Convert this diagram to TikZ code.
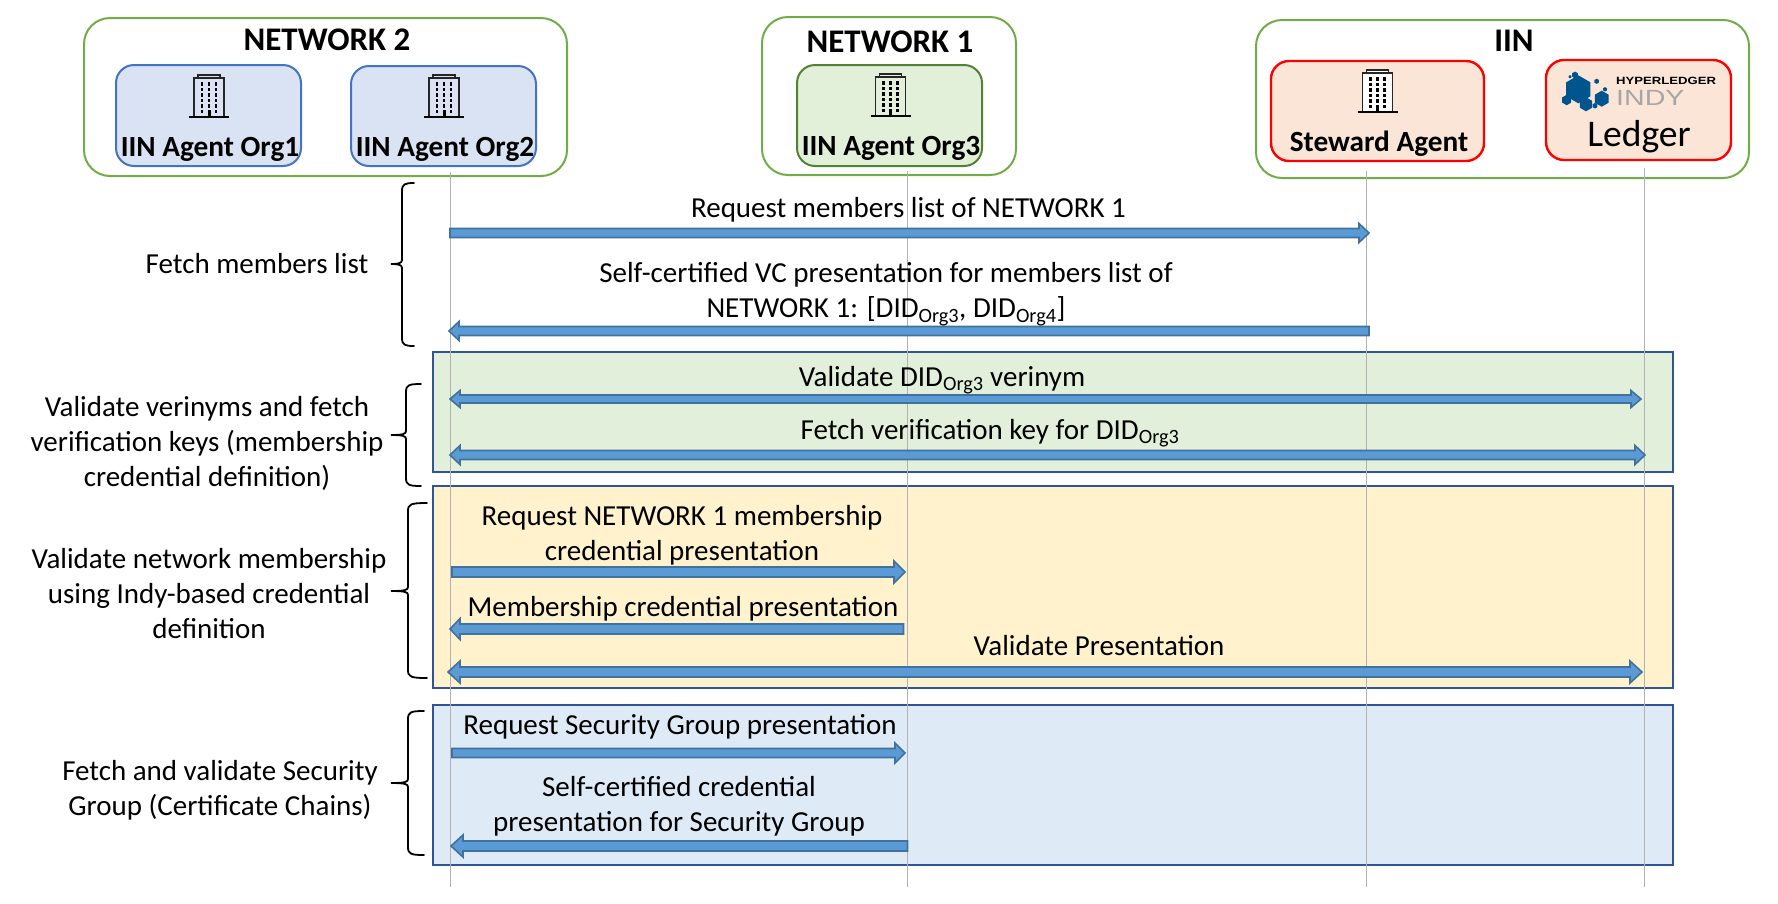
\documentclass[tikz,border=0pt]{standalone}
\usepackage{fontspec}
\setmainfont{Carlito}
\newfontfamily\logofont{Liberation Sans}
\usetikzlibrary{calc}
\definecolor{outergreen}{HTML}{70AD47}
\definecolor{orgblue}{HTML}{4472C4}
\definecolor{orgbluefill}{HTML}{DAE3F3}
\definecolor{orggreen}{HTML}{548235}
\definecolor{orggreenfill}{HTML}{E2F0D9}
\definecolor{peachfill}{HTML}{FBE5D6}
\definecolor{bandline}{HTML}{2F5597}
\definecolor{bandgreen}{HTML}{E2EFDA}
\definecolor{bandyellow}{HTML}{FFF2CC}
\definecolor{bandblue}{HTML}{DEEAF6}
\definecolor{flowfill}{HTML}{5B9BD5}
\definecolor{flowline}{HTML}{41719C}
\definecolor{lifegray}{HTML}{B2B2B2}
\definecolor{indyblue}{HTML}{00558F}
\definecolor{indygray}{HTML}{A6A6A6}
\newcommand{\fs}[1]{\fontsize{#1}{35}\selectfont}
\tikzset{
  outerbox/.style={draw=outergreen,line width=2pt,rounded corners=26pt,inner sep=0pt,outer sep=0pt},
  orgbox/.style={draw=orgblue,fill=orgbluefill,line width=2pt,rounded corners=18pt,inner sep=0pt,outer sep=0pt},
  orgboxg/.style={draw=orggreen,fill=orggreenfill,line width=2pt,rounded corners=18pt,inner sep=0pt,outer sep=0pt},
  redbox/.style={draw=red,fill=peachfill,line width=2.4pt,rounded corners=18pt,inner sep=0pt,outer sep=0pt},
  band/.style={draw=bandline,line width=2.4pt,inner sep=0pt,outer sep=0pt},
  lifeline/.style={draw=lifegray,line width=1pt},
  flowarrow/.style={draw=flowline,fill=flowfill,line width=1.6pt,line join=miter},
  curly/.style={draw=black,line width=1.8pt,line cap=round},
  lab/.style={inner sep=0pt,outer sep=0pt,text height=18.5pt,text depth=0pt,font=\fs{29}},
  mlab/.style={inner sep=0pt,outer sep=0pt,align=center,font=\fs{29}},
  title/.style={inner sep=0pt,outer sep=0pt,text height=21pt,text depth=0pt,font=\fs{33}\bfseries},
  orglab/.style={inner sep=0pt,outer sep=0pt,text height=19pt,text depth=0pt,font=\fs{29.3}\bfseries},
}
\newcommand{\oneway}[5]{%
  \coordinate (tmpB) at ($(#2)!#5pt!(#1)$);
  \draw[flowarrow] ($(#1)!#3pt!90:(#2)$) -- ($(tmpB)!#3pt!90:(#2)$) -- ($(tmpB)!#4pt!90:(#2)$) -- (#2)
    -- ($(tmpB)!#4pt!-90:(#2)$) -- ($(tmpB)!#3pt!-90:(#2)$) -- ($(#1)!#3pt!-90:(#2)$) -- cycle;}
\newcommand{\twoway}[5]{%
  \coordinate (tmpA) at ($(#1)!#5pt!(#2)$);
  \coordinate (tmpB) at ($(#2)!#5pt!(#1)$);
  \draw[flowarrow] (#1) -- ($(tmpA)!#4pt!-90:(#1)$) -- ($(tmpA)!#3pt!-90:(#1)$)
    -- ($(tmpB)!#3pt!90:(#2)$) -- ($(tmpB)!#4pt!90:(#2)$) -- (#2)
    -- ($(tmpB)!#4pt!-90:(#2)$) -- ($(tmpB)!#3pt!-90:(#2)$)
    -- ($(tmpA)!#3pt!90:(#1)$) -- ($(tmpA)!#4pt!90:(#1)$) -- cycle;}
% end x, spine x, tip x, top y, mid y, bottom y
\newcommand{\curlybrace}[6]{%
  \draw[curly] (#1,#4) .. controls (#2+3,#4) and (#2,#4+1) .. (#2,#4+8) -- (#2,#5-4)
    .. controls (#2,#5-1) and (#2-3,#5) .. (#3,#5)
    .. controls (#2-3,#5) and (#2,#5+1) .. (#2,#5+4) -- (#2,#6-8)
    .. controls (#2,#6-1) and (#2+3,#6) .. (#1,#6);}
% centre x, top y
\newcommand{\building}[3][none]{%
  \begin{scope}[shift={(#2,#3)}]
    \draw[black!85,line width=1.4pt,fill=#1] (-15,3) rectangle (15,42);
    \draw[black!85,line width=1.2pt,fill=#1] (-11,0) rectangle (11,3);
    \draw[black,line width=1.4pt] (-20,42) -- (20,42);
    \foreach \wx in {-7,0,7}
      \foreach \wy in {9,14.5,20,25.5,31}
        \fill[black] (\wx-1.2,\wy-1.7) rectangle (\wx+1.2,\wy+1.7);
    \fill[black] (-8.2,34.5) rectangle (-5.8,37.5);
    \fill[black] (5.8,34.5) rectangle (8.2,37.5);
    \fill[black] (-1.5,35) rectangle (1.5,42);
  \end{scope}}
\begin{document}
\begin{tikzpicture}[x=1pt,y=-1pt]
\useasboundingbox (0,0) rectangle (1778,903);
% header groups
\node[outerbox,minimum width=483pt,minimum height=158pt] (net2) at (325.5,97) {};
\node[outerbox,minimum width=254pt,minimum height=158pt] (net1) at (889,96) {};
\node[outerbox,minimum width=493pt,minimum height=158pt] (iin) at (1502.5,99) {};
\node[orgbox,minimum width=185pt,minimum height=101pt] (org1) at (208.5,115.5) {};
\node[orgbox,minimum width=185pt,minimum height=100pt] (org2) at (443.5,116) {};
\node[orgboxg,minimum width=185pt,minimum height=101pt] (org3) at (889.5,115.5) {};
\node[redbox,minimum width=213pt,minimum height=100pt] (steward) at (1377.5,111) {};
\node[redbox,minimum width=185pt,minimum height=100pt] (ledger) at (1638.5,110) {};
\node[title] (tnet2) at (327,40) {NETWORK 2};
\node[title] (tnet1) at (890,42) {NETWORK 1};
\node[title] (tiin) at (1514,41) {IIN};
\building{209}{75}
\building{444}{75}
\building{890.5}{74}
\building[white]{1377.5}{70}
\node[orglab] (lorg1) at (210,147) {IIN Agent Org1};
\node[orglab] (lorg2) at (445,147) {IIN Agent Org2};
\node[orglab] (lorg3) at (891,146) {IIN Agent Org3};
\node[orglab] (lsteward) at (1379,142) {Steward Agent};
\node[inner sep=0pt,text height=24pt,text depth=0pt,font=\fs{37.6}] (lledger) at (1639,134) {Ledger};
% Indy logo
\foreach \cx/\cy/\r in {1578.3/89.3/14,1601.7/98.7/8,1586/104.3/7,1566.7/100/5.2,1575/75/3.4,1596.7/81.3/2.6,1595/105.7/2.8,1605/89.3/2.2,1570/76.7/1.6}
  \fill[indyblue,shift={(\cx,\cy)}] (90:\r) -- (150:\r) -- (210:\r) -- (270:\r) -- (330:\r) -- (30:\r) -- cycle;
\node[inner sep=0pt,anchor=west,text height=7.5pt,text depth=0pt] (logo1) at (1616,81) {\logofont\bfseries\fontsize{10.5}{12}\selectfont\scalebox{1.25}[1]{HYPERLEDGER}};
\node[inner sep=0pt,anchor=west,text height=16pt,text depth=0pt,text=indygray] (logo2) at (1616,97) {\logofont\fontsize{22}{24}\selectfont\scalebox{1.3}[1]{INDY}};
% bands
\node[band,fill=bandgreen,minimum width=1240pt,minimum height=120pt] (bgreen) at (1053,412) {};
\node[band,fill=bandyellow,minimum width=1240pt,minimum height=202pt] (byellow) at (1053,587) {};
\node[band,fill=bandblue,minimum width=1240pt,minimum height=160pt] (bblue) at (1053,785) {};
% lifelines
\coordinate (L1t) at (450,172); \coordinate (L1b) at (450,887);
\coordinate (L2t) at (907.5,171); \coordinate (L2b) at (907.5,887);
\coordinate (L3t) at (1366,171); \coordinate (L3b) at (1366,887);
\coordinate (L4t) at (1644,168); \coordinate (L4b) at (1644,887);
\draw[lifeline] (L1t) -- (L1b);
\draw[lifeline] (L2t) -- (L2b);
\draw[lifeline] (L3t) -- (L3b);
\draw[lifeline] (L4t) -- (L4b);
% arrows
\coordinate (a1s) at (450,233); \coordinate (a1e) at (1369,233);
\coordinate (a2s) at (1369,331); \coordinate (a2e) at (449,331);
\coordinate (a3s) at (450,399); \coordinate (a3e) at (1641,399);
\coordinate (a4s) at (450,455); \coordinate (a4e) at (1645,455);
\coordinate (a5s) at (452,572); \coordinate (a5e) at (905,572);
\coordinate (a6s) at (903.5,629); \coordinate (a6e) at (450,629);
\coordinate (a7s) at (448,672); \coordinate (a7e) at (1642,672);
\coordinate (a8s) at (452,753); \coordinate (a8e) at (905,753);
\coordinate (a9s) at (907.5,846); \coordinate (a9e) at (451,846);
\oneway{a1s}{a1e}{4.5}{9.5}{10}
\oneway{a2s}{a2e}{4.5}{9.5}{10}
\twoway{a3s}{a3e}{4}{8.5}{10}
\twoway{a4s}{a4e}{4.5}{9.5}{10}
\oneway{a5s}{a5e}{5}{11}{11}
\oneway{a6s}{a6e}{5}{10.5}{10}
\twoway{a7s}{a7e}{5}{11}{12}
\oneway{a8s}{a8e}{4.5}{10}{10}
\oneway{a9s}{a9e}{5}{11}{12}
% braces
\curlybrace{414}{402}{391}{183}{264}{346}
\curlybrace{421}{406}{391}{384}{435}{486}
\curlybrace{427}{408}{391}{503}{591}{678}
\curlybrace{424}{408}{391}{711}{783}{855}
% message labels
\node[lab] (m1) at (908.5,208) {Request members list of NETWORK 1};
\node[mlab] (m2) at (886,294) {Self-certified VC presentation for members list of\\NETWORK 1: [DID\textsubscript{Org3}, DID\textsubscript{Org4}]};
\node[lab] (m3) at (942,377) {Validate DID\textsubscript{Org3} verinym};
\node[lab] (m4) at (990,430) {Fetch verification key for DID\textsubscript{Org3}};
\node[mlab] (m5) at (682,535) {Request NETWORK 1 membership\\credential presentation};
\node[lab] (m6) at (683,607) {Membership credential presentation};
\node[lab] (m7) at (1099,646) {Validate Presentation};
\node[lab] (m8) at (680,725) {Request Security Group presentation};
\node[mlab] (m9) at (679,806) {Self-certified credential\\presentation for Security Group};
% phase labels
\node[lab] (p1) at (257,264) {Fetch members list};
\node[mlab] (p2) at (207,443.5) {Validate verinyms and fetch\\verification keys (membership\\credential definition)};
\node[mlab] (p3) at (209,593.5) {Validate network membership\\using Indy-based credential\\definition};
\node[mlab] (p4) at (220,790.5) {Fetch and validate Security\\Group (Certificate Chains)};
\end{tikzpicture}
\end{document}
